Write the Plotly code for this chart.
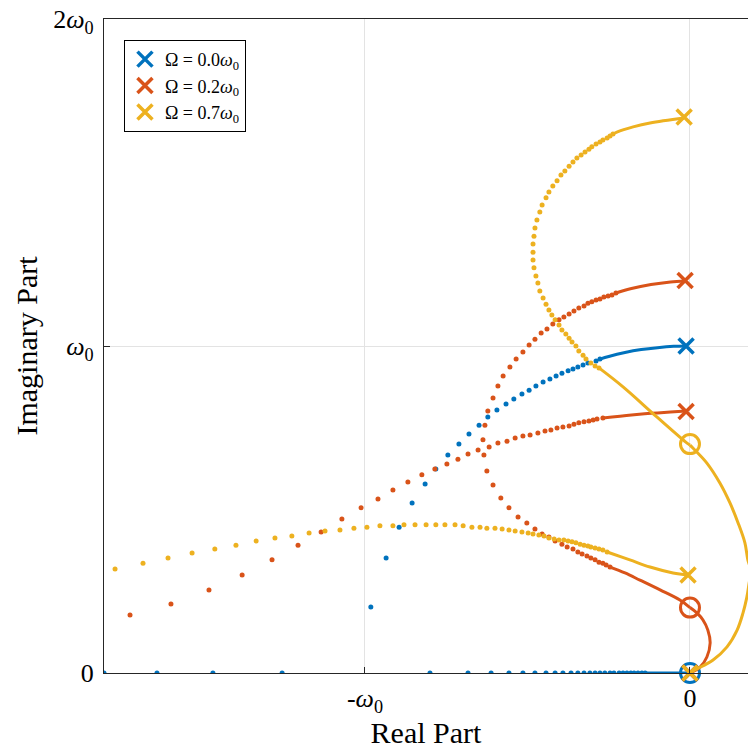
import plotly.graph_objects as go

BLUE, RED, YELLOW = "#0072BD", "#D95319", "#EDB120"

# ---------------- Omega = 0.0 w0 ----------------
b_arc_dot_x = [-0.277, -0.289, -0.314, -0.329, -0.345, -0.360, -0.375, -0.394, -0.412, -0.431,
               -0.452, -0.474, -0.495, -0.517, -0.542, -0.566, -0.594, -0.622, -0.649, -0.680,
               -0.711, -0.745, -0.782, -0.815, -0.855, -0.895, -0.935, -0.982]
b_arc_dot_y = [0.960, 0.954, 0.948, 0.942, 0.936, 0.930, 0.924, 0.917, 0.908, 0.899,
               0.890, 0.878, 0.865, 0.853, 0.838, 0.823, 0.804, 0.783, 0.758, 0.731,
               0.700, 0.667, 0.624, 0.578, 0.520, 0.446, 0.352, 0.202]
b_arc_line_x = [-0.012, -0.05, -0.10, -0.15, -0.20, -0.25, -0.277]
b_arc_line_y = [1.000, 0.999, 0.995, 0.989, 0.980, 0.968, 0.960]
b_real_dot_x = [-1.803, -1.640, -1.468, -1.255,
                -0.800, -0.683, -0.612, -0.557, -0.514, -0.477, -0.443, -0.415, -0.391, -0.366,
                -0.345, -0.326, -0.308, -0.292, -0.277, -0.262, -0.246, -0.234, -0.218, -0.206,
                -0.194, -0.182, -0.172, -0.160, -0.148, -0.138]
b_real_line_x = [-0.138, 0.0]
b_pole_x, b_pole_y = [-0.012, 0.0], [1.0, 0.0]
b_zero_x, b_zero_y = [0.0], [0.0]

# ---------------- Omega = 0.2 w0 ----------------
r1_dot_x = [-0.228, -0.240, -0.252, -0.265, -0.277, -0.289, -0.302, -0.314, -0.326, -0.342,
            -0.357, -0.372, -0.388, -0.403, -0.422, -0.440, -0.458, -0.477, -0.495, -0.514,
            -0.535, -0.554, -0.575, -0.591, -0.606, -0.622, -0.631, -0.637, -0.634, -0.625,
            -0.606, -0.582, -0.557, -0.529, -0.502, -0.477, -0.455, -0.434, -0.415, -0.394,
            -0.378, -0.360, -0.345, -0.332, -0.317, -0.305, -0.292, -0.280, -0.268, -0.258, -0.246]
r1_dot_y = [1.162, 1.156, 1.153, 1.150, 1.144, 1.141, 1.135, 1.131, 1.122, 1.116,
            1.107, 1.098, 1.089, 1.080, 1.067, 1.052, 1.040, 1.021, 1.003, 0.982,
            0.960, 0.936, 0.908, 0.878, 0.841, 0.801, 0.758, 0.713, 0.667, 0.618,
            0.575, 0.535, 0.505, 0.477, 0.459, 0.440, 0.425, 0.416, 0.404, 0.394,
            0.385, 0.379, 0.370, 0.364, 0.358, 0.352, 0.346, 0.339, 0.336, 0.330, 0.324]
r1_top_line_x = [-0.015, -0.06, -0.12, -0.18, -0.228]
r1_top_line_y = [1.199, 1.196, 1.188, 1.176, 1.162]
r1_bot_line_x = [-0.246, -0.200, -0.154, -0.092, -0.031, 0.0]
r1_bot_line_y = [0.324, 0.306, 0.284, 0.254, 0.223, 0.200]

r2_dot_x = [-0.268, -0.286, -0.298, -0.311, -0.326, -0.342, -0.357, -0.372, -0.391, -0.409,
            -0.428, -0.446, -0.468, -0.492, -0.514, -0.538, -0.563, -0.591, -0.618, -0.652,
            -0.683, -0.714, -0.748, -0.785, -0.825, -0.868, -0.914, -0.960, -1.012, -1.071,
            -1.135, -1.206, -1.286, -1.378, -1.480, -1.597, -1.723]
r2_dot_y = [0.780, 0.777, 0.774, 0.771, 0.768, 0.765, 0.761, 0.755, 0.752, 0.749,
            0.743, 0.740, 0.734, 0.728, 0.725, 0.719, 0.709, 0.703, 0.691, 0.682,
            0.670, 0.654, 0.639, 0.624, 0.606, 0.584, 0.560, 0.532, 0.505, 0.471,
            0.431, 0.391, 0.346, 0.300, 0.254, 0.211, 0.177]
r2_line_x = [-0.012, -0.06, -0.12, -0.18, -0.268]
r2_line_y = [0.801, 0.798, 0.794, 0.789, 0.780]

r3_line_x = [0.0, 0.031, 0.052, 0.062, 0.055, 0.040, 0.022, 0.0]
r3_line_y = [0.0, 0.018, 0.049, 0.092, 0.131, 0.162, 0.183, 0.200]
r_pole_x, r_pole_y = [-0.015, -0.012, 0.0], [1.2, 0.8, 0.0]
r_zero_x, r_zero_y = [0.0], [0.2]

# ---------------- Omega = 0.7 w0 ----------------
y1_dot_x = [-0.237, -0.246, -0.255, -0.268, -0.277, -0.289, -0.302, -0.311, -0.323, -0.335,
            -0.348, -0.360, -0.372, -0.385, -0.397, -0.409, -0.422, -0.434, -0.443, -0.455,
            -0.462, -0.471, -0.477, -0.480, -0.483, -0.483, -0.483, -0.480, -0.474, -0.468,
            -0.462, -0.452, -0.443, -0.434, -0.425, -0.415, -0.403, -0.394, -0.382, -0.372,
            -0.363, -0.351, -0.342, -0.329, -0.320, -0.305, -0.292, -0.280]
y1_dot_y = [1.648, 1.642, 1.636, 1.630, 1.624, 1.618, 1.609, 1.602, 1.593, 1.584,
            1.575, 1.563, 1.550, 1.535, 1.523, 1.505, 1.489, 1.471, 1.453, 1.431,
            1.410, 1.385, 1.361, 1.336, 1.312, 1.287, 1.263, 1.239, 1.214, 1.193,
            1.168, 1.147, 1.128, 1.110, 1.095, 1.080, 1.064, 1.049, 1.037, 1.024,
            1.012, 1.000, 0.985, 0.972, 0.960, 0.948, 0.939, 0.933]
y1_top_line_x = [-0.018, -0.123, -0.175, -0.225, -0.237]
y1_top_line_y = [1.697, 1.682, 1.670, 1.654, 1.648]
y1_bot_line_x = [-0.280, -0.206, -0.102, -0.009, 0.0]
y1_bot_line_y = [0.933, 0.875, 0.783, 0.703, 0.697]

y2_dot_x = [-0.255, -0.268, -0.280, -0.292, -0.305, -0.314, -0.326, -0.338, -0.351, -0.363,
            -0.375, -0.388, -0.403, -0.418, -0.434, -0.449, -0.465, -0.483, -0.498, -0.517,
            -0.538, -0.557, -0.578, -0.600, -0.625, -0.646, -0.671, -0.698, -0.723, -0.754,
            -0.782, -0.812, -0.846, -0.880, -0.914, -0.954, -0.994, -1.034, -1.077, -1.123,
            -1.172, -1.225, -1.277, -1.335, -1.397, -1.462, -1.532, -1.606, -1.683, -1.769]
y2_dot_y = [0.370, 0.376, 0.379, 0.382, 0.385, 0.388, 0.391, 0.394, 0.398, 0.401,
            0.404, 0.407, 0.407, 0.410, 0.413, 0.419, 0.422, 0.425, 0.428, 0.431,
            0.434, 0.437, 0.440, 0.443, 0.443, 0.446, 0.446, 0.450, 0.453, 0.453,
            0.453, 0.453, 0.453, 0.453, 0.450, 0.450, 0.446, 0.443, 0.437, 0.434,
            0.428, 0.419, 0.413, 0.404, 0.391, 0.379, 0.367, 0.352, 0.336, 0.318]
y2_line_x = [-0.006, -0.052, -0.123, -0.185, -0.246, -0.255]
y2_line_y = [0.300, 0.306, 0.324, 0.346, 0.367, 0.370]

y3_line_x = [0.0, 0.009, 0.052, 0.092, 0.123, 0.148, 0.169, 0.178, 0.188, 0.182,
             0.175, 0.163, 0.145, 0.114, 0.071, 0.015, 0.0]
y3_line_y = [0.697, 0.688, 0.642, 0.581, 0.520, 0.459, 0.398, 0.346, 0.310, 0.275,
             0.232, 0.183, 0.131, 0.080, 0.040, 0.009, 0.0]
y_pole_x, y_pole_y = [-0.018, -0.006, 0.0], [1.7, 0.3, 0.0]
y_zero_x, y_zero_y = [0.0], [0.7]

legend_names = ["Ω = 0.0<i>ω</i><sub>0</sub>", "Ω = 0.2<i>ω</i><sub>0</sub>",
                "Ω = 0.7<i>ω</i><sub>0</sub>"]

fig = go.Figure()


def add_dots(x, y, c):
    fig.add_trace(go.Scatter(x=x, y=y, mode="markers", showlegend=False, hoverinfo="skip",
                             marker=dict(color=c, size=5, line=dict(width=0))))


def add_line(x, y, c):
    fig.add_trace(go.Scatter(x=x, y=y, mode="lines", showlegend=False, hoverinfo="skip",
                             line=dict(color=c, width=3, shape="spline")))


def add_pz(px, py, zx, zy, c, name):
    fig.add_trace(go.Scatter(x=zx, y=zy, mode="markers", showlegend=False, cliponaxis=False,
                             hoverinfo="skip",
                             marker=dict(symbol="circle-open", size=19, color=c,
                                         line=dict(color=c, width=3))))
    fig.add_trace(go.Scatter(x=px, y=py, mode="markers", name=name, cliponaxis=False,
                             marker=dict(symbol="x-thin", size=15, color=c,
                                         line=dict(color=c, width=3.5))))


# blue
add_dots(b_arc_dot_x, b_arc_dot_y, BLUE)
add_dots(b_real_dot_x, [0] * len(b_real_dot_x), BLUE)
add_line(b_arc_line_x, b_arc_line_y, BLUE)
add_line(b_real_line_x, [0, 0], BLUE)
add_pz(b_pole_x, b_pole_y, b_zero_x, b_zero_y, BLUE, legend_names[0])
# red
add_dots(r1_dot_x, r1_dot_y, RED)
add_dots(r2_dot_x, r2_dot_y, RED)
add_line(r1_top_line_x, r1_top_line_y, RED)
add_line(r1_bot_line_x, r1_bot_line_y, RED)
add_line(r2_line_x, r2_line_y, RED)
add_line(r3_line_x, r3_line_y, RED)
add_pz(r_pole_x, r_pole_y, r_zero_x, r_zero_y, RED, legend_names[1])
# yellow
add_dots(y1_dot_x, y1_dot_y, YELLOW)
add_dots(y2_dot_x, y2_dot_y, YELLOW)
add_line(y1_top_line_x, y1_top_line_y, YELLOW)
add_line(y1_bot_line_x, y1_bot_line_y, YELLOW)
add_line(y2_line_x, y2_line_y, YELLOW)
add_line(y3_line_x, y3_line_y, YELLOW)
add_pz(y_pole_x, y_pole_y, y_zero_x, y_zero_y, YELLOW, legend_names[2])

FONT = "Liberation Serif"
AX = "#262626"
fig.update_layout(
    width=748, height=749,
    margin=dict(l=104, r=0, t=19, b=76),
    plot_bgcolor="white", paper_bgcolor="white",
    font=dict(family=FONT, color="black"),
    legend=dict(x=0.031, y=0.968, xanchor="left", yanchor="top",
                bgcolor="white", bordercolor="black", borderwidth=1,
                font=dict(family=FONT, size=18), itemsizing="trace", tracegroupgap=0,
                itemwidth=30),
    xaxis=dict(range=[-1.803, 0.1785], tickvals=[-1, 0],
               ticktext=["-<i>ω</i><sub>0</sub>", "0"],
               showgrid=True, gridcolor="#e3e3e3", gridwidth=1, zeroline=False,
               showline=True, linecolor=AX, linewidth=1.2, mirror=True,
               ticks="inside", ticklen=6, tickcolor=AX, tickfont=dict(size=26),
               ticklabelstandoff=2,
               title=dict(text="Real Part", font=dict(size=30), standoff=2)),
    yaxis=dict(range=[0, 2], tickvals=[0, 1, 2],
               ticktext=["0", "<i>ω</i><sub>0</sub>", "2<i>ω</i><sub>0</sub>"],
               showgrid=True, gridcolor="#e3e3e3", gridwidth=1, zeroline=False,
               showline=True, linecolor=AX, linewidth=1.2,
               ticks="inside", ticklen=6, tickcolor=AX, tickfont=dict(size=26),
               ticklabelstandoff=4,
               title=dict(text="Imaginary Part", font=dict(size=30), standoff=6)),
)

fig.write_html("out.html")
